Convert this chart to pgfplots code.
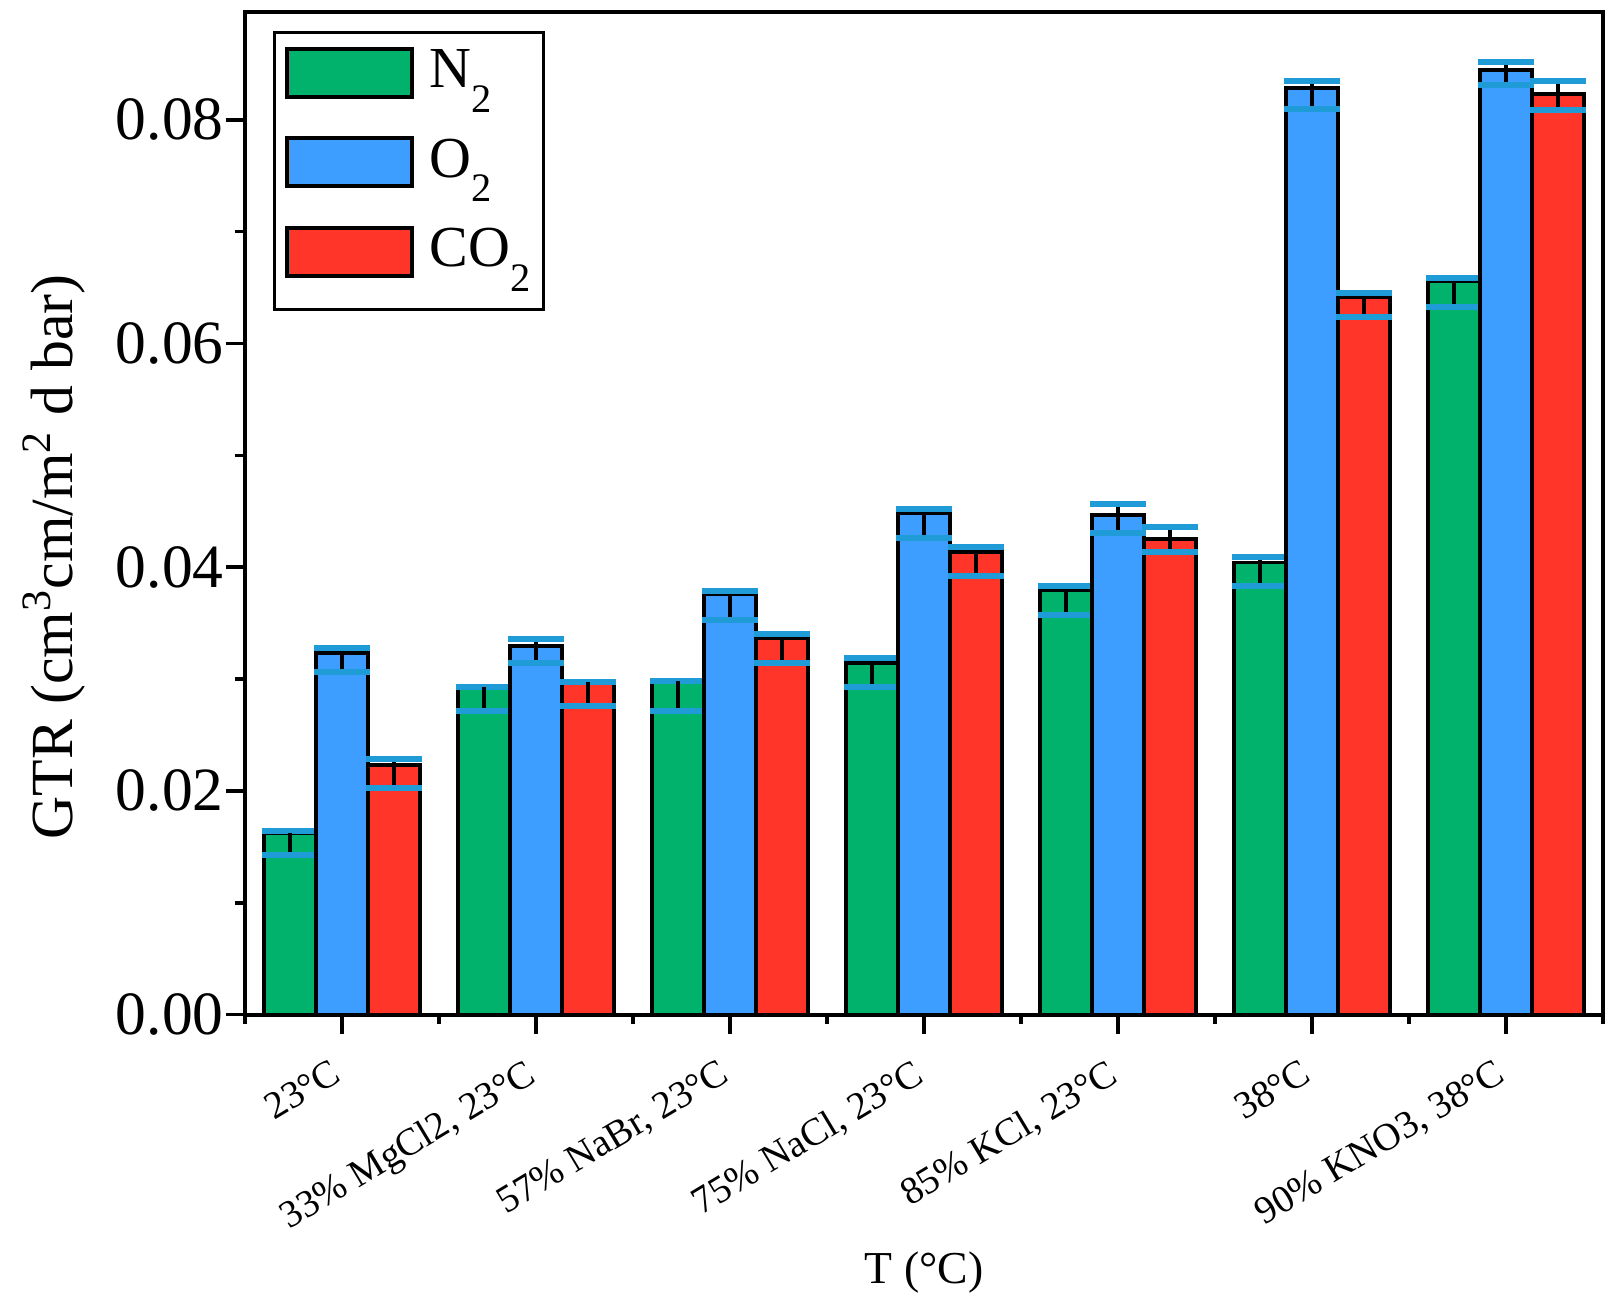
\documentclass[border=0pt]{standalone}
\usepackage{fontspec}
\setmainfont{Liberation Serif}
\usepackage{pgfplots}
\pgfplotsset{compat=1.18}
\usepackage{pgfplotstable}
\definecolor{cgreen}{RGB}{0,178,108}
\definecolor{cblue}{RGB}{61,158,255}
\definecolor{cred}{RGB}{255,53,41}
\definecolor{ccap}{RGB}{31,156,216}
\newcommand\lsub[1]{\raisebox{-0.42em}{\fontsize{11.5}{12}\selectfont #1}}
\pgfplotstableread{
x n2 n2p n2m o2 o2p o2m co2 co2p co2m
0 0.01621 0.00023 0.00194 0.03230 0.00050 0.00165 0.02231 0.00057 0.00202
1 0.02931 0.00000 0.00214 0.03298 0.00060 0.00152 0.02976 0.00000 0.00217
2 0.02983 0.00000 0.00266 0.03758 0.00030 0.00230 0.03364 0.00040 0.00220
3 0.03146 0.00045 0.00214 0.04482 0.00040 0.00220 0.04133 0.00050 0.00210
4 0.03796 0.00040 0.00220 0.04464 0.00100 0.00160 0.04256 0.00100 0.00120
5 0.04042 0.00050 0.00210 0.08284 0.00065 0.00190 0.06414 0.00040 0.00180
6 0.06555 0.00030 0.00230 0.08448 0.00070 0.00140 0.08227 0.00120 0.00140
}\datatable
\begin{document}
\begin{tikzpicture}
\useasboundingbox (-2.45cm,-2.843cm) rectangle (13.72cm,10.147cm);
\begin{axis}[
  at={(0,0)}, anchor=south west,
  scale only axis, width=13.58cm, height=10.023cm,
  xmin=-0.5, xmax=6.5, ymin=0, ymax=0.0896,
  xtick={0,1,2,3,4,5,6},
  xticklabels={{23°C},{33\% MgCl2, 23°C},{57\% NaBr, 23°C},{75\% NaCl, 23°C},{85\% KCl, 23°C},{38°C},{90\% KNO3, 38°C}},
  minor xtick={-0.5,0.5,1.5,2.5,3.5,4.5,5.5,6.5},
  ytick={0,0.02,0.04,0.06,0.08},
  minor ytick={0.01,0.03,0.05,0.07},
  scaled y ticks=false,
  /pgf/number format/assume math mode=true,
  yticklabel style={/pgf/number format/.cd, fixed, fixed zerofill, precision=2, /tikz/.cd, xshift=0.1cm},
  tick align=outside, xtick pos=bottom, ytick pos=left,
  major tick length=0.19cm, minor tick length=0.095cm,
  every tick/.style={black, line width=1pt},
  axis line style={line width=1.15pt},
  ticklabel style={font=\fontsize{17.5}{20}\selectfont},
  xticklabel style={font=\fontsize{11}{13}\selectfont, xshift=-0.08cm, yshift=-0.07cm, rotate=31, anchor=north east},
  ylabel={GTR (cm\textsuperscript{3}cm/m\textsuperscript{2} d bar)},
  xlabel={T (°C)},
  ylabel style={font=\fontsize{17}{20}\selectfont, at={(axis description cs:-0.1406,0.4567)}, anchor=center},
  xlabel style={font=\fontsize{13}{16}\selectfont, at={(axis description cs:0.5,0)}, anchor=center, yshift=-2.58cm},
  error bars/y dir=both, error bars/y explicit,
  error bars/error mark=|,
  error bars/error bar style={black, line width=0.95pt},
  error bars/error mark options={draw=ccap, ccap, line width=1.7pt, mark size=0.28cm},
  legend image code/.code={\draw[#1] (0cm,-0.15cm) rectangle (1.25cm,0.33cm);},
  legend style={at={(axis description cs:0.0206,0.9814)}, anchor=north west, draw=black, line width=0.95pt, font=\fontsize{16.5}{19}\selectfont, inner xsep=0.1cm, inner ysep=0.1cm, row sep=0.115cm, nodes={inner xsep=0.03cm, inner ysep=0pt, text height=0.45cm, text depth=0.33cm}},
  /tikz/every odd column/.append style={column sep=0.13cm},
  legend cell align=left,
]
\addplot[ybar, bar width=0.268, bar shift=0pt, fill=cgreen, draw=black, line width=1.1pt]
  table[x expr=\thisrow{x}-0.268, y=n2, y error plus=n2p, y error minus=n2m]{\datatable};
\addlegendentry{N\lsub{2}}
\addplot[ybar, bar width=0.268, bar shift=0pt, fill=cblue, draw=black, line width=1.1pt]
  table[x=x, y=o2, y error plus=o2p, y error minus=o2m]{\datatable};
\addlegendentry{O\lsub{2}}
\addplot[ybar, bar width=0.268, bar shift=0pt, fill=cred, draw=black, line width=1.1pt]
  table[x expr=\thisrow{x}+0.268, y=co2, y error plus=co2p, y error minus=co2m]{\datatable};
\addlegendentry{CO\lsub{2}}
\end{axis}
\end{tikzpicture}
\end{document}
